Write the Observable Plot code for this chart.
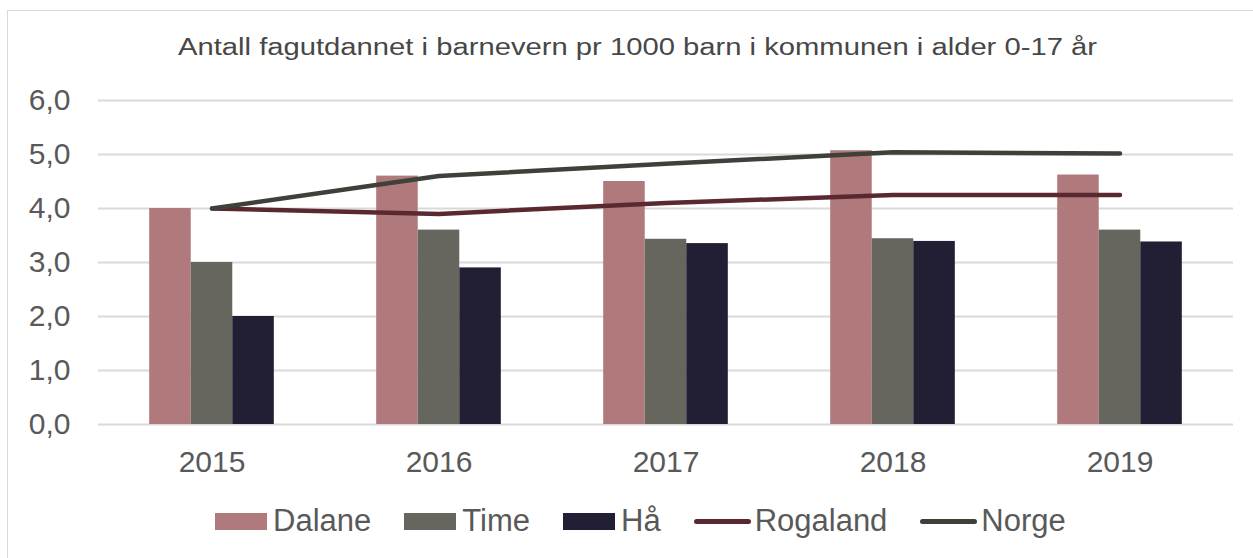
<!DOCTYPE html>
<html>
<head>
<meta charset="utf-8">
<script src="https://cdn.jsdelivr.net/npm/d3@7"></script>
<script src="https://cdn.jsdelivr.net/npm/@observablehq/plot@0.6"></script>
<style>
  html, body { margin: 0; padding: 0; background: #fff; overflow: hidden; }
  body { width: 1253px; height: 558px; position: relative; font-family: "Liberation Sans", Arial, sans-serif; }
  #frame { position: absolute; left: 7px; top: 10px; width: 1300px; height: 600px; border: 1px solid #d9d9d9; box-sizing: border-box; }
  #title { position: absolute; left: 0; width: 1275px; top: 34px; text-align: center; font-size: 23px; color: #474747; white-space: nowrap; transform: scaleX(1.27); transform-origin: 637.5px 0; }
  #chart { position: absolute; left: 0; top: 70px; }
  #legend { position: absolute; left: 215px; top: 503px; display: flex; align-items: center; font-size: 31px; color: #595959; white-space: nowrap; }
  .item { display: flex; align-items: center; margin-right: 33px; }
  .sw { width: 52px; height: 17px; margin-right: 6px; }
  .ln { width: 57px; height: 5px; border-radius: 3px; margin-right: 4px; }
</style>
</head>
<body>
<div id="frame"></div>
<div id="title">Antall fagutdannet i barnevern pr 1000 barn i kommunen i alder 0-17 år</div>
<div id="chart"></div>
<div id="legend"></div>
<script>
const years = ["2015", "2016", "2017", "2018", "2019"];
const dalane = [4.0, 4.6, 4.5, 5.07, 4.62];
const time = [3.0, 3.6, 3.43, 3.44, 3.6];
const haa = [2.0, 2.9, 3.35, 3.39, 3.38];
const rogaland = [4.0, 3.9, 4.1, 4.25, 4.25];
const norge = [4.0, 4.6, 4.83, 5.04, 5.02];
const yTicks = [0, 1, 2, 3, 4, 5, 6];

const barSeries = [
  {name: "Dalane", values: dalane, color: "#B07A7D"},
  {name: "Time", values: time, color: "#66665E"},
  {name: "Hå", values: haa, color: "#221E34"}
];
const lineSeries = [
  {name: "Rogaland", values: rogaland, color: "#5A2930"},
  {name: "Norge", values: norge, color: "#3E4039"}
];

const W = 1253, mL = 98, mR = 20;
const step = (W - mL - mR) / years.length;
const barW = step * 0.183;
const inset = (step - barW) / 2;

const toRows = (s) => years.map((y, i) => ({year: y, value: s.values[i], series: s.name}));

const marks = [
  Plot.ruleY(yTicks, {stroke: "#d9d9d9", strokeWidth: 2})
];
barSeries.forEach((s, i) => {
  marks.push(Plot.barY(toRows(s), {
    x: "year", y: "value", fill: s.color,
    dx: (i - 1) * barW, insetLeft: inset, insetRight: inset
  }));
});
lineSeries.forEach((s) => {
  marks.push(Plot.lineY(toRows(s), {
    x: "year", y: "value", stroke: s.color, strokeWidth: 4.5,
    strokeLinecap: "round", strokeLinejoin: "round"
  }));
});

const chart = Plot.plot({
  width: W,
  height: 420,
  marginLeft: mL,
  marginRight: mR,
  marginTop: 30,
  marginBottom: 66,
  style: {fontFamily: "'Liberation Sans', Arial, sans-serif", fontSize: "30px", color: "#595959", background: "transparent", overflow: "visible"},
  x: {type: "band", domain: years, padding: 0, label: null, tickSize: 0, tickPadding: 26},
  y: {domain: [0, 6], ticks: yTicks, label: null, tickSize: 0, tickPadding: 28,
      tickFormat: d => d.toFixed(1).replace(".", ",")},
  marks
});
document.getElementById("chart").appendChild(chart);

const legend = document.getElementById("legend");
barSeries.forEach(s => {
  const it = document.createElement("div"); it.className = "item";
  it.innerHTML = `<div class="sw" style="background:${s.color}"></div><span>${s.name}</span>`;
  legend.appendChild(it);
});
lineSeries.forEach(s => {
  const it = document.createElement("div"); it.className = "item";
  it.innerHTML = `<div class="ln" style="background:${s.color}"></div><span>${s.name}</span>`;
  legend.appendChild(it);
});
</script>
</body>
</html>
